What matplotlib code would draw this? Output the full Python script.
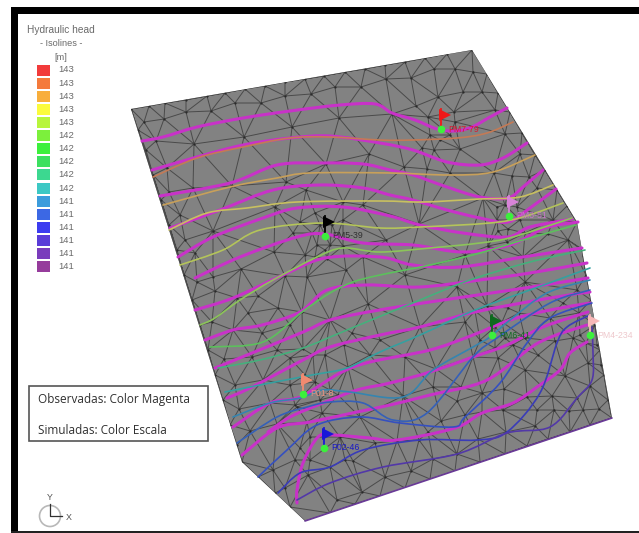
import numpy as np
import matplotlib
matplotlib.use('Agg')
import matplotlib.pyplot as plt
import matplotlib.tri as mtri
from matplotlib.path import Path
from matplotlib.patches import Polygon, Rectangle, Circle, PathPatch

plt.rcParams['font.family'] = ['Liberation Sans', 'DejaVu Sans']

# ======================== data, in picture pixels ==========================
outline = [(131, 109), (472, 50), (577, 222), (612, 418), (305, 521), (242, 462)]

edge_nodes = [
    (131, 109), (149, 106), (165, 103), (186, 100), (207, 96), (225, 93), (245, 89), (265, 86),
    (285, 82), (305, 79), (324, 76), (345, 72), (365, 69), (385, 65), (405, 62), (425, 58),
    (447, 54), (472, 50), (487, 74), (498, 93), (510, 112), (522, 133), (535, 155), (545, 170),
    (557, 190), (567, 206), (577, 222), (582, 250), (586, 275), (591, 300), (595, 325), (600, 350),
    (604, 375), (608, 400), (612, 418), (590, 425), (570, 432), (548, 439), (527, 446), (505, 454),
    (480, 462), (455, 471), (430, 479), (405, 488), (380, 496), (355, 504), (330, 513), (305, 521),
    (290, 507), (275, 493), (258, 477), (242, 462), (237, 445), (230, 425), (223, 400), (215, 375),
    (208, 350), (200, 325), (192, 300), (184, 275), (177, 250), (169, 225), (161, 200), (153, 175),
    (146, 150), (138, 130),
]

inner_nodes = [
    (144, 122), (164, 119), (186, 112), (211, 111), (235, 103), (261, 103), (285, 96), (311, 94),
    (335, 87), (361, 87), (386, 79), (411, 78), (434, 69), (455, 69), (473, 72),
    (463, 92), (482, 92), (438, 97), (416, 106), (392, 114), (454, 112), (495, 110), (428, 117),
    (505, 134), (460, 149), (422, 148), (434, 150), (520, 154), (404, 167), (427, 169), (450, 173),
    (494, 173), (512, 176), (529, 177), (537, 188), (483, 198), (497, 207), (517, 207), (553, 220),
    (419, 224), (498, 231), (508, 229), (525, 233), (548, 234), (568, 240), (507, 242), (488, 246),
    (386, 240), (465, 255), (523, 257), (582, 249), (405, 275),
    (156, 141), (194, 144), (244, 137), (292, 127), (339, 118), (369, 154),
    (167, 168), (193, 188), (169, 192), (232, 186), (286, 182), (326, 164),
    (180, 215), (213, 231), (185, 240), (275, 207), (306, 190), (343, 202), (363, 205),
    (300, 222), (315, 213), (293, 233), (274, 252), (241, 269), (213, 277), (195, 253),
    (327, 259), (346, 270), (363, 257), (343, 220), (343, 246), (305, 255), (315, 257),
    (197, 282), (215, 291), (237, 298), (258, 296), (285, 276), (307, 277),
    (248, 313), (278, 308), (302, 312), (330, 320), (368, 304), (212, 322), (233, 330), (262, 333),
    (290, 325), (352, 333), (380, 340), (224, 359), (252, 357), (277, 350), (303, 349), (325, 355),
    (344, 345), (370, 355), (405, 357), (235, 385), (263, 380), (290, 358), (313, 355), (348, 367),
    (270, 403), (239, 409), (250, 431), (277, 424), (297, 407), (322, 413), (338, 395), (403, 396),
    (307, 422), (360, 417), (295, 460), (273, 470), (308, 475), (330, 467), (353, 461), (397, 441),
    (375, 443), (411, 471), (385, 477), (362, 492), (337, 500), (285, 488), (428, 432),
    (419, 440),
    (457, 287), (525, 282), (577, 290), (420, 327), (475, 311), (487, 306), (508, 308), (465, 322),
    (519, 313), (550, 318), (563, 303), (579, 313), (473, 357), (495, 348), (513, 345), (525, 338),
    (538, 355), (555, 341), (573, 338), (586, 343), (436, 369), (498, 358), (525, 370), (565, 376),
    (588, 363), (601, 365), (433, 387), (461, 387), (504, 389), (482, 393), (527, 397), (552, 396),
    (577, 398), (590, 386), (457, 401), (441, 421), (465, 415), (482, 412), (503, 410), (537, 410),
    (554, 410), (569, 411), (583, 410), (599, 409), (535, 426), (506, 432), (478, 439), (457, 454),
    (433, 459),
]

# small cells packed round the wells
well_nodes = [
    (312, 233), (317, 245), (330, 245), (337, 237), (332, 225), (320, 225), (325, 250),
    (440, 140), (450, 135), (430, 135), (455, 122),
    (497, 220), (520, 220), (505, 205),
    (495, 327), (502, 322), (480, 340), (505, 338),
    (290, 385), (315, 382), (320, 400), (295, 405), (305, 375), (330, 390),
    (310, 437), (340, 437), (345, 460), (310, 460), (300, 448),
    (580, 335), (597, 345), (595, 320),
]

observed_1 = [(142, 141), (163, 137), (197, 127), (243, 118), (290, 111), (340, 105), (375, 104), (392, 113),
              (415, 120), (437, 129), (455, 131), (472, 127), (490, 117), (507, 108)]
observed_2 = [(152, 170), (197, 157), (243, 145), (290, 138), (330, 136), (380, 143), (413, 150), (447, 162),
              (480, 165), (503, 158), (527, 143)]
observed_3 = [(160, 196), (230, 183), (277, 165), (323, 163), (363, 164), (390, 170), (413, 175), (447, 187),
              (480, 197), (508, 198), (523, 187), (543, 170)]
observed_4 = [(170, 228), (220, 210), (273, 190), (320, 185), (363, 188), (390, 195), (413, 200), (447, 210),
              (480, 218), (508, 222), (530, 208), (556, 189)]
observed_5 = [(178, 257), (213, 237), (263, 218), (297, 208), (343, 207), (390, 216), (420, 225), (463, 233),
              (507, 237), (530, 227), (572, 219)]
observed_6 = [(195, 278), (240, 257), (297, 237), (325, 234), (363, 243), (413, 245), (463, 252), (510, 245),
              (545, 228), (578, 222)]
observed_7 = [(195, 310), (233, 298), (283, 275), (325, 258), (380, 257), (413, 265), (460, 267), (523, 257),
              (582, 248)]
observed_8 = [(205, 340), (233, 330), (262, 325), (300, 312), (327, 290), (367, 285), (420, 287), (480, 280),
              (530, 273), (587, 263)]
observed_9 = [(215, 368), (252, 353), (303, 332), (330, 320), (368, 312), (410, 305), (457, 298), (525, 288),
              (588, 278)]
observed_10 = [(227, 398), (250, 388), (303, 360), (330, 347), (380, 335), (420, 327), (475, 312), (550, 298),
               (590, 292)]
observed_11 = [(233, 427), (270, 403), (300, 397), (340, 373), (370, 362), (430, 350), (473, 335), (510, 320),
               (550, 310), (590, 303)]
observed_12 = [(268, 432), (290, 417), (323, 403), (357, 390), (390, 383), (430, 372), (473, 357), (507, 345),
               (543, 327), (588, 312)]
observed_13 = [(242, 455), (277, 428), (310, 422), (357, 412), (390, 405), (430, 395), (487, 380), (538, 343),
               (587, 325)]
observed_14 = [(297, 503), (297, 490), (303, 463), (318, 437), (333, 435), (370, 438), (397, 440), (455, 428),
               (482, 413), (513, 403), (537, 387), (560, 370), (570, 353), (587, 342)]

sim_1 = [(153, 177), (197, 158), (243, 147), (290, 138), (330, 137), (380, 140), (413, 140), (457, 138),
         (487, 133), (513, 122)]
sim_2 = [(163, 205), (230, 187), (277, 178), (310, 173), (390, 173), (450, 175), (493, 172), (535, 155)]
sim_3 = [(169, 230), (207, 213), (247, 208), (297, 202), (380, 201), (423, 202), (480, 199), (520, 197),
         (553, 185)]
sim_4 = [(180, 265), (223, 250), (260, 230), (323, 223), (380, 228), (420, 227), (490, 223), (523, 217),
         (563, 203)]
sim_5 = [(200, 325), (215, 318), (240, 300), (273, 280), (317, 257), (343, 248), (380, 252), (430, 248),
         (480, 243), (513, 237), (572, 218)]
sim_6 = [(210, 347), (263, 342), (302, 312), (330, 293), (353, 282), (380, 275), (430, 265), (480, 253),
         (523, 240), (576, 225)]
sim_7 = [(218, 368), (260, 360), (303, 348), (347, 330), (420, 300), (470, 280), (530, 262), (585, 250)]
sim_8 = [(225, 392), (270, 383), (312, 375), (347, 368), (380, 352), (420, 335), (475, 310), (530, 290),
         (590, 268)]
sim_9 = [(233, 417), (270, 403), (300, 398), (323, 390), (350, 392), (403, 397), (433, 370), (473, 347),
         (490, 337), (510, 320), (547, 293), (590, 280)]
sim_10 = [(237, 443), (277, 417), (307, 407), (330, 402), (363, 403), (393, 420), (427, 413), (473, 357),
          (497, 338), (550, 303), (590, 290)]
sim_11 = [(258, 477), (287, 450), (317, 425), (360, 417), (400, 423), (453, 427), (465, 417), (500, 383),
          (527, 343), (550, 318), (592, 303)]
sim_12 = [(278, 493), (300, 473), (330, 467), (363, 450), (420, 440), (477, 440), (507, 432), (540, 393),
          (557, 343), (567, 327), (590, 315)]
sim_13 = [(297, 500), (330, 483), (383, 467), (457, 454), (507, 433), (550, 427), (577, 398), (592, 380),
          (593, 353), (592, 327)]
sim_14 = [(305, 521), (612, 418)]

observed_lines = [observed_1, observed_2, observed_3, observed_4, observed_5, observed_6, observed_7,
                  observed_8, observed_9, observed_10, observed_11, observed_12, observed_13, observed_14]
sim_lines = [sim_1, sim_2, sim_3, sim_4, sim_5, sim_6, sim_7, sim_8, sim_9, sim_10, sim_11, sim_12, sim_13, sim_14]
sim_colors = ['#c47a55', '#c8a05a', '#c8c060', '#b4c45a', '#8cc45a', '#5cc05c', '#45b07c', '#35a0a0',
              '#3585b0', '#3560b8', '#3550c0', '#3a3cb8', '#5238a8', '#6a3a98']

legend_colors = ['#f23b3b', '#f47a3c', '#f8ae3c', '#fbfb3c', '#b8f53c', '#7cf03c', '#3cf03c', '#3ce060',
                 '#3cd890', '#3cc8c4', '#3c9cdc', '#3c68e4', '#3c3cf0', '#5a3cd8', '#7a3cbc', '#963c9c']
legend_labels = ['143', '143', '143', '143', '143', '142', '142', '142', '142', '142',
                 '141', '141', '141', '141', '141', '141']

well_names = ['PM5-39', 'PM7-79', 'PM3-51', 'PM6-41', 'PM4-234', 'P02-46', 'P01-8']
well_x = [325, 441, 509, 492, 590, 324, 303]
well_y = [236, 129, 216, 335, 335, 448, 394]
well_colors = ['#000000', '#f01818', '#d884d8', '#0e6a1e', '#f8b8b8', '#1818d8', '#f08a70']
label_colors = ['#303030', '#d81830', '#c878c8', '#0e6a1e', '#eec8cc', '#1818c8', '#e89080']


# smooth curve through the points
def curve(line, **kw):
    p = np.array(line, dtype=float)
    verts = [p[0]]
    codes = [Path.MOVETO]
    for i in range(len(p) - 1):
        before = p[max(i - 1, 0)]
        after = p[min(i + 2, len(p) - 1)]
        verts += [p[i] + (p[i + 1] - before) / 6, p[i + 1] - (after - p[i]) / 6, p[i + 1]]
        codes += [Path.CURVE4] * 3
    return PathPatch(Path(verts, codes), fc='none', capstyle='round', joinstyle='round', **kw)


# ====================== canvas ========================
fig = plt.figure(figsize=(6.39, 5.33), dpi=100, facecolor='white')
ax = fig.add_axes([0, 0, 1, 1])
ax.set_xlim(0, 639)
ax.set_ylim(533, 0)
ax.axis('off')

# black frame of the screenshot
ax.add_patch(Rectangle((11, 7), 628, 6.5, fc='black', ec='none'))
ax.add_patch(Rectangle((11, 7), 6.5, 526, fc='black', ec='none'))
ax.add_patch(Rectangle((11, 531), 628, 2, fc='#222222', ec='none'))

# ====================== mesh ========================
body = Polygon(outline, closed=True, fc='#828282', ec='none', zorder=1)
ax.add_patch(body)

nodes = np.array(sorted(set(edge_nodes + inner_nodes + well_nodes)), dtype=float)
mesh = mtri.Triangulation(nodes[:, 0], nodes[:, 1])
mesh_lines = ax.triplot(mesh, color='#3c3c3c', lw=0.7, alpha=0.8, zorder=2)
for ln in mesh_lines:
    ln.set_clip_path(body)
ax.scatter(nodes[:, 0], nodes[:, 1], s=2.5, color='#2a2a2a', lw=0, zorder=2, clip_path=body)

# ====================== isolines ========================
for line in observed_lines:
    ax.add_patch(curve(line, ec='#c832c8', lw=2.2, zorder=3))
for line, col in zip(sim_lines, sim_colors):
    ax.add_patch(curve(line, ec=col, lw=1.2, zorder=4))

# ====================== wells ========================
for name, x, y, col, lab in zip(well_names, well_x, well_y, well_colors, label_colors):
    ax.plot([x, x], [y, y - 20], color=col, lw=1.3, zorder=5)
    ax.plot([x + 4], [y - 14], marker='>', ms=8, color=col, mew=0, zorder=5)
    ax.plot([x], [y], marker='o', ms=5.5, color='#3cf03c', mew=0, zorder=6)
    ax.text(x + 7, y, name, color=lab, fontsize=6.3, va='center', ha='left', zorder=6)

# ====================== legend ========================
ax.text(61, 30, 'Hydraulic head', fontsize=7.3, color='#6a6a6a', ha='center', va='center')
ax.text(61, 44, '- Isolines -', fontsize=6.6, color='#6a6a6a', ha='center', va='center')
ax.text(61, 57, '[m]', fontsize=6.6, color='#6a6a6a', ha='center', va='center')
for i, (col, lab) in enumerate(zip(legend_colors, legend_labels)):
    yc = 70 + i * 13.12
    ax.add_patch(Rectangle((37, yc - 5.5), 13, 11, fc=col, ec='none'))
    ax.text(58, yc, lab, fontsize=6.8, color='#6a6a6a', ha='left', va='center')

# ====================== note box ========================
ax.add_patch(Rectangle((29, 386), 179, 55, fc='white', ec='#555555', lw=1.2, zorder=7))
ax.text(38, 400, 'Observadas: Color Magenta', fontsize=8.5, color='#303030', va='center', zorder=8,
        family=['Open Sans', 'DejaVu Sans'])
ax.text(38, 431, 'Simuladas: Color Escala', fontsize=8.5, color='#303030', va='center', zorder=8,
        family=['Open Sans', 'DejaVu Sans'])

# ====================== axis triad ========================
ax.add_patch(Circle((50, 516), 10.5, fc='none', ec='#b8b8b8', lw=1.2))
ax.plot([50, 50, 62], [504, 516, 516], color='#303030', lw=0.9)
ax.text(50, 497, 'Y', fontsize=6.4, color='#505050', ha='center', va='center')
ax.text(69, 517, 'X', fontsize=6.4, color='#505050', ha='center', va='center')

plt.savefig('out.png', dpi=100)
